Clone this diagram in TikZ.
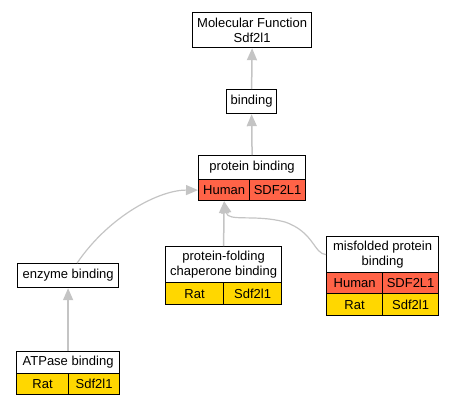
\documentclass[tikz,border=0pt]{standalone}
\usepackage{fontspec}
\setmainfont{Liberation Sans}
\usepackage{xcolor}
\usepackage{tikz}
\usetikzlibrary{arrows.meta}
\definecolor{humanred}{HTML}{FF6347}
\definecolor{ratgold}{HTML}{FFD700}
\definecolor{edgegray}{HTML}{C4C4C4}

\begin{document}
\begin{tikzpicture}[x=1pt,y=-1pt,
	term/.style={draw,fill=white,line width=1.2pt,inner sep=0pt,anchor=north west,align=center,font=\fontsize{13}{15}\selectfont},
	human/.style={term,fill=humanred},
	rat/.style={term,fill=ratgold},
	isa/.style={draw=edgegray,line width=1.5pt,-{Triangle[length=12pt,width=10pt]}}]
	\useasboundingbox (0,0) rectangle (455,405);
	% terms
	\node[term,minimum width=119,minimum height=35] (mf) at (192,12) {Molecular Function\\Sdf2l1};
	\node[term,minimum width=50,minimum height=24] (bind) at (226,89) {binding};
	\node[term,minimum width=107,minimum height=24] (pb) at (198,155) {protein binding};
		\node[human,minimum width=51,minimum height=21] (pbHuman) at (198,179) {Human};
		\node[human,minimum width=56,minimum height=21] (pbGene) at (249,179) {SDF2L1};
	\node[term,minimum width=101,minimum height=24] (enz) at (17,263) {enzyme binding};
	\node[term,minimum width=116,minimum height=36] (chap) at (165,246) {protein-folding\\chaperone binding};
		\node[rat,minimum width=58,minimum height=22] (chapRat) at (165,282) {Rat};
		\node[rat,minimum width=58,minimum height=22] (chapGene) at (223,282) {Sdf2l1};
	\node[term,minimum width=112,minimum height=36] (mis) at (326,236) {misfolded protein\\binding};
		\node[human,minimum width=56,minimum height=21] (misHuman) at (326,272) {Human};
		\node[human,minimum width=56,minimum height=21] (misHGene) at (382,272) {SDF2L1};
		\node[rat,minimum width=56,minimum height=22] (misRat) at (326,293) {Rat};
		\node[rat,minimum width=56,minimum height=22] (misRGene) at (382,293) {Sdf2l1};
	\node[term,minimum width=103,minimum height=22] (atp) at (16,351) {ATPase binding};
		\node[rat,minimum width=52,minimum height=21] (atpRat) at (16,373) {Rat};
		\node[rat,minimum width=51,minimum height=21] (atpGene) at (68,373) {Sdf2l1};
	% is_a edges
	\draw[isa] (bind.north) -- (mf.south);
	\draw[isa] (pb.north) -- (bind.south);
	\draw[isa,line width=1.2pt] ([xshift=9pt]enz.north) .. controls (110,215) and (160,190) .. (pbHuman.west);
	\draw[isa] (chap.north) -- (pbHuman.south);
	\draw[isa,line width=1.2pt] (mis.west) .. controls (314,254) and (314,232) .. (285,222) .. controls (255,214) and (228,222) .. (pbHuman.south);
	\draw[isa] (atp.north) -- (enz.south);
\end{tikzpicture}
\end{document}
